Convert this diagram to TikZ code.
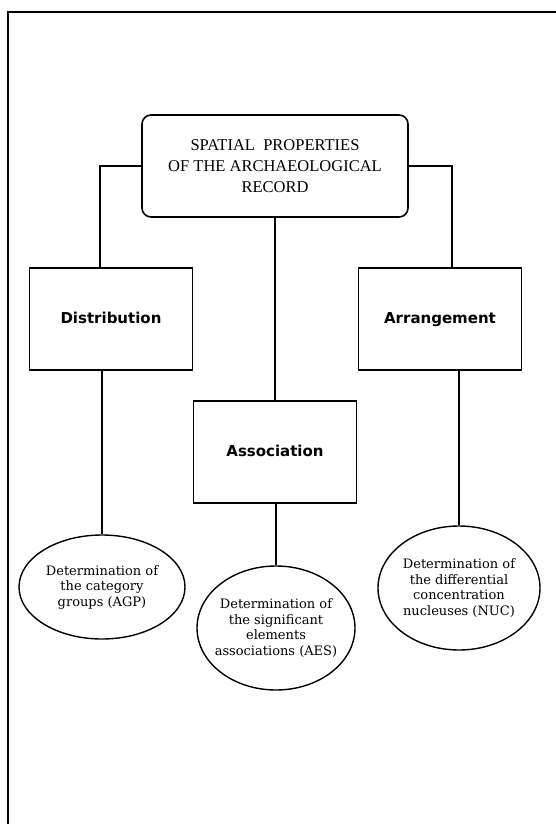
\documentclass[tikz,border=0pt]{standalone}
\usepackage{fontspec}
\setmainfont{Liberation Serif}
\setsansfont{DejaVu Sans}
\newfontfamily\ovalfont{DejaVu Serif}
\usetikzlibrary{shapes.geometric}
\tikzset{
  rootbox/.style={draw, rounded corners=9pt, line width=1.6pt, minimum width=266pt, minimum height=102pt, align=center, font=\fontsize{16.5}{21}\selectfont},
  propbox/.style={draw, line width=1.6pt, minimum width=163pt, minimum height=102pt, text height=11pt, text depth=3pt, font=\sffamily\bfseries\fontsize{15}{17}\selectfont},
  ovalbox/.style={draw, ellipse, line width=1.4pt, inner xsep=-14pt, inner ysep=0pt, align=center, font=\ovalfont\fontsize{13}{15.5}\selectfont},
  link/.style={line width=1.6pt},
  frame/.style={line width=1.6pt}
}

\begin{document}
\begin{tikzpicture}[x=1pt, y=-1pt]
\useasboundingbox (0,0) rectangle (556,824);

% frame
\draw[frame] (8,824) |- (556,12);

% boxes
\node[rootbox] (root) at (275,166) {SPATIAL\ \ PROPERTIES\\OF THE ARCHAEOLOGICAL\\RECORD};
\node[propbox] (dist) at (111,319) {Distribution};
\node[propbox] (arr) at (440,319) {Arrangement};
\node[propbox] (assoc) at (275,452) {Association};

% ovals
\node[ovalbox, minimum width=166pt, minimum height=104pt] (ovdist) at (102,587) {Determination of\\the category\\groups (AGP)};
\node[ovalbox, minimum width=158pt, minimum height=124pt] (ovassoc) at (276,628) {Determination of\\the significant\\elements\\associations (AES)};
\node[ovalbox, minimum width=162pt, minimum height=124pt] (ovarr) at (459,588) {Determination of\\the differential\\concentration\\nucleuses (NUC)};

% connectors
\draw[link] (root.west) -| ([xshift=-11pt]dist.north);
\draw[link] (root.east) -| ([xshift=12pt]arr.north);
\draw[link] (root.south) -- (assoc.north);
\draw[link] (ovdist.north) -- (ovdist.north |- dist.south);
\draw[link] (ovassoc.north) -- (ovassoc.north |- assoc.south);
\draw[link] (ovarr.north) -- (ovarr.north |- arr.south);
\end{tikzpicture}
\end{document}
